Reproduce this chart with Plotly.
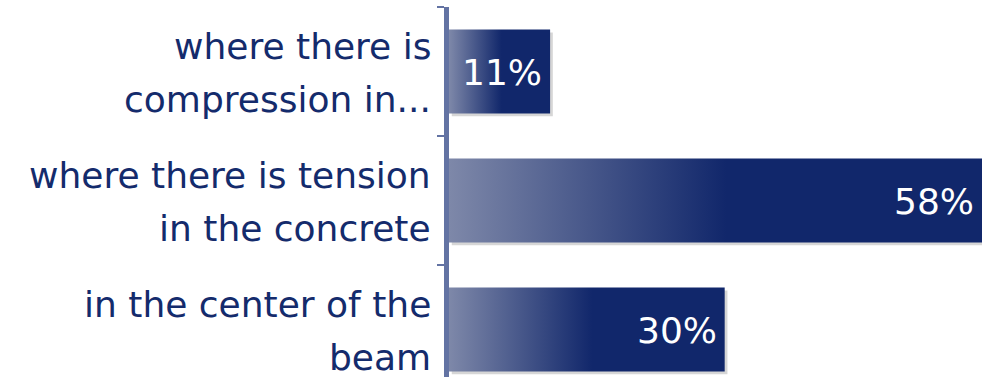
import plotly.graph_objects as go

categories = ["where there is<br>compression in...",
              "where there is tension<br>in the concrete",
              "in the center of the<br>beam"]
values = [11, 58, 30]
value_labels = ["11%", "58%", "30%"]

NAVY = "#11276b"
LIGHT = "#7e88a9"
AXIS = "#6373a3"
TEXT = "#142b6c"
HALF = 0.325
FONT = "DejaVu Sans"
FS = 36

fig = go.Figure()

# shadows
for i, v in enumerate(values):
    dx, dy = 0.3, 0.022
    fig.add_trace(go.Scatter(
        x=[dx, v + dx, v + dx, dx, dx],
        y=[i - HALF + dy, i - HALF + dy, i + HALF + dy, i + HALF + dy, i - HALF + dy],
        fill="toself", fillcolor="rgba(0,0,0,0.16)", mode="lines",
        line=dict(width=0), hoverinfo="skip", showlegend=False))

for i, v in enumerate(values):
    fig.add_trace(go.Scatter(
        x=[0, v, v, 0, 0],
        y=[i - HALF, i - HALF, i + HALF, i + HALF, i - HALF],
        fill="toself", mode="lines", line=dict(width=0),
        fillgradient=dict(type="horizontal",
                          colorscale=[[0, LIGHT], [0.52, NAVY], [1, NAVY]]),
        hoverinfo="skip", showlegend=False))
    fig.add_annotation(x=v, y=i, xref="x", yref="y", text=value_labels[i],
                       xanchor="right", yanchor="middle", xshift=-6, yshift=-1,
                       showarrow=False,
                       font=dict(family=FONT, size=FS, color="white"))

# category labels, one line per annotation for the wider line spacing
for i, cat in enumerate(categories):
    lines = cat.split("<br>")
    for j, line in enumerate(lines):
        fig.add_annotation(x=0, y=i, xref="paper", yref="y", text=line,
                           xanchor="right", yanchor="middle", xshift=-16,
                           yshift=(26.5 if j == 0 else -26.5) - 1,
                           showarrow=False,
                           font=dict(family=FONT, size=FS, color=TEXT))

fig.update_layout(
    width=982, height=377,
    margin=dict(l=449, r=0, t=7, b=0),
    plot_bgcolor="white", paper_bgcolor="white",
    showlegend=False,
    xaxis=dict(range=[0, 58], visible=False, fixedrange=True),
    yaxis=dict(range=[2.368, -0.5], tickvals=[-0.5, 0.5, 1.5],
               ticks="outside", ticklen=7, tickwidth=2, tickcolor=AXIS,
               showticklabels=False, showline=True, linewidth=5, linecolor=AXIS,
               showgrid=False, zeroline=False),
)

fig.write_html("out.html")
